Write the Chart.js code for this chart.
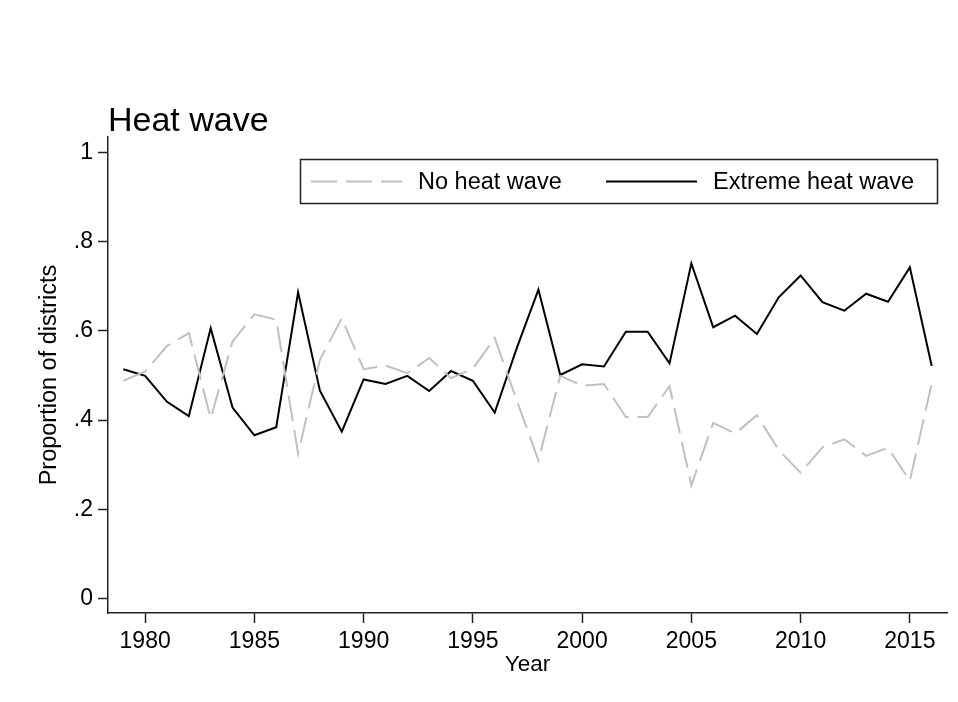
<!DOCTYPE html>
<html>
<head>
<meta charset="utf-8">
<script src="https://cdn.jsdelivr.net/npm/chart.js@4/dist/chart.umd.min.js"></script>
<style>
  html, body { margin: 0; padding: 0; background: #fff; }
  #wrap { width: 958px; height: 702px; }
</style>
</head>
<body>
<div id="wrap"><canvas id="chart" width="958" height="702"></canvas></div>
<script>
// Years on the x axis
const years = [
  1979, 1980, 1981, 1982, 1983, 1984, 1985, 1986, 1987, 1988,
  1989, 1990, 1991, 1992, 1993, 1994, 1995, 1996, 1997, 1998,
  1999, 2000, 2001, 2002, 2003, 2004, 2005, 2006, 2007, 2008,
  2009, 2010, 2011, 2012, 2013, 2014, 2015, 2016
];

// Proportion of districts
const noHeatWave = [
  0.488, 0.509, 0.566, 0.595, 0.404, 0.576, 0.637, 0.625, 0.325, 0.535,
  0.628, 0.514, 0.522, 0.505, 0.539, 0.494, 0.515, 0.584, 0.445, 0.310,
  0.499, 0.477, 0.481, 0.407, 0.407, 0.476, 0.254, 0.394, 0.370, 0.411,
  0.333, 0.282, 0.339, 0.357, 0.320, 0.338, 0.264, 0.482
];
const extremeHeatWave = [
  0.514, 0.499, 0.441, 0.409, 0.606, 0.428, 0.366, 0.384, 0.686, 0.466,
  0.374, 0.491, 0.481, 0.499, 0.465, 0.510, 0.488, 0.417, 0.560, 0.692,
  0.501, 0.525, 0.520, 0.598, 0.598, 0.527, 0.751, 0.608, 0.634, 0.593,
  0.675, 0.724, 0.664, 0.645, 0.683, 0.665, 0.742, 0.521
];

// Tick labels
const xTickValues = [1980, 1985, 1990, 1995, 2000, 2005, 2010, 2015];
const yTickValues = [0, 0.2, 0.4, 0.6, 0.8, 1];
const yTickLabels = ['0', '.2', '.4', '.6', '.8', '1'];

const FONT = "'Liberation Sans', Arial, sans-serif";
const AXIS_COLOR = '#222';

function toPoints(values) {
  return years.map((y, i) => ({ x: y, y: values[i] }));
}

// Stata-style boxed legend inside the plot region
const boxLegend = {
  id: 'boxLegend',
  afterDraw(chart) {
    const ctx = chart.ctx;
    const box = { x: 300.5, y: 159.5, w: 637, h: 44 };
    const items = [
      { lineX: 311, textX: 418 },
      { lineX: 606, textX: 713 }
    ];
    ctx.save();
    ctx.fillStyle = '#fff';
    ctx.fillRect(box.x, box.y, box.w, box.h);
    ctx.strokeStyle = '#222';
    ctx.lineWidth = 1.5;
    ctx.strokeRect(box.x, box.y, box.w, box.h);
    const midY = box.y + box.h / 2;
    chart.data.datasets.forEach((ds, i) => {
      const it = items[i];
      ctx.beginPath();
      ctx.strokeStyle = ds.borderColor;
      ctx.lineWidth = ds.borderWidth;
      ctx.setLineDash(ds.borderDash || []);
      ctx.moveTo(it.lineX, midY);
      ctx.lineTo(it.lineX + 91, midY);
      ctx.stroke();
      ctx.setLineDash([]);
      ctx.fillStyle = '#000';
      ctx.font = '23.5px ' + FONT;
      ctx.textBaseline = 'middle';
      ctx.textAlign = 'left';
      ctx.fillText(ds.label, it.textX, midY + 1);
    });
    ctx.restore();
  }
};

new Chart(document.getElementById('chart'), {
  type: 'line',
  data: {
    datasets: [
      {
        label: 'No heat wave',
        data: toPoints(noHeatWave),
        borderColor: '#c0c0c0',
        borderWidth: 2,
        borderDash: [26, 9],
        pointRadius: 0,
        tension: 0,
        fill: false
      },
      {
        label: 'Extreme heat wave',
        data: toPoints(extremeHeatWave),
        borderColor: '#000',
        borderWidth: 2,
        pointRadius: 0,
        tension: 0,
        fill: false
      }
    ]
  },
  options: {
    responsive: false,
    animation: false,
    events: [],
    layout: { padding: { top: 106.4, right: 11, bottom: 0, left: 0 } },
    plugins: {
      legend: { display: false },
      tooltip: { enabled: false },
      title: {
        display: true,
        text: 'Heat wave',
        align: 'start',
        fullSize: false,
        color: '#000',
        font: { family: FONT, size: 34, weight: 'normal', lineHeight: 0.9 },
        padding: { top: 0, bottom: 0 }
      }
    },
    scales: {
      x: {
        type: 'linear',
        min: 1978.3,
        max: 2016.7,
        afterBuildTicks(scale) {
          scale.ticks = xTickValues.map(v => ({ value: v }));
        },
        afterFit(scale) { scale.height = 89; },
        grid: {
          drawOnChartArea: false,
          drawTicks: true,
          tickLength: 10,
          tickWidth: 1.5,
          color: AXIS_COLOR
        },
        border: { display: true, color: AXIS_COLOR, width: 1.5 },
        ticks: {
          color: '#000',
          padding: 5,
          maxRotation: 0,
          font: { family: FONT, size: 23 },
          callback: v => String(v)
        },
        title: {
          display: true,
          text: 'Year',
          color: '#000',
          font: { family: FONT, size: 22.5 },
          padding: { top: 0, bottom: 24 }
        }
      },
      y: {
        min: -0.032,
        max: 1.034,
        afterBuildTicks(scale) {
          scale.ticks = yTickValues.map(v => ({ value: v }));
        },
        afterFit(scale) { scale.width = 108; },
        grid: {
          drawOnChartArea: false,
          drawTicks: true,
          tickLength: 10,
          tickWidth: 1.5,
          color: AXIS_COLOR
        },
        border: { display: true, color: AXIS_COLOR, width: 1.5 },
        ticks: {
          color: '#000',
          padding: 5,
          font: { family: FONT, size: 23 },
          callback: (v) => {
            const i = yTickValues.indexOf(v);
            return i >= 0 ? yTickLabels[i] : '';
          }
        },
        title: {
          display: true,
          text: 'Proportion of districts',
          color: '#000',
          font: { family: FONT, size: 23.5 },
          padding: { top: 35, bottom: 0 }
        }
      }
    }
  },
  plugins: [boxLegend]
});
</script>
</body>
</html>
